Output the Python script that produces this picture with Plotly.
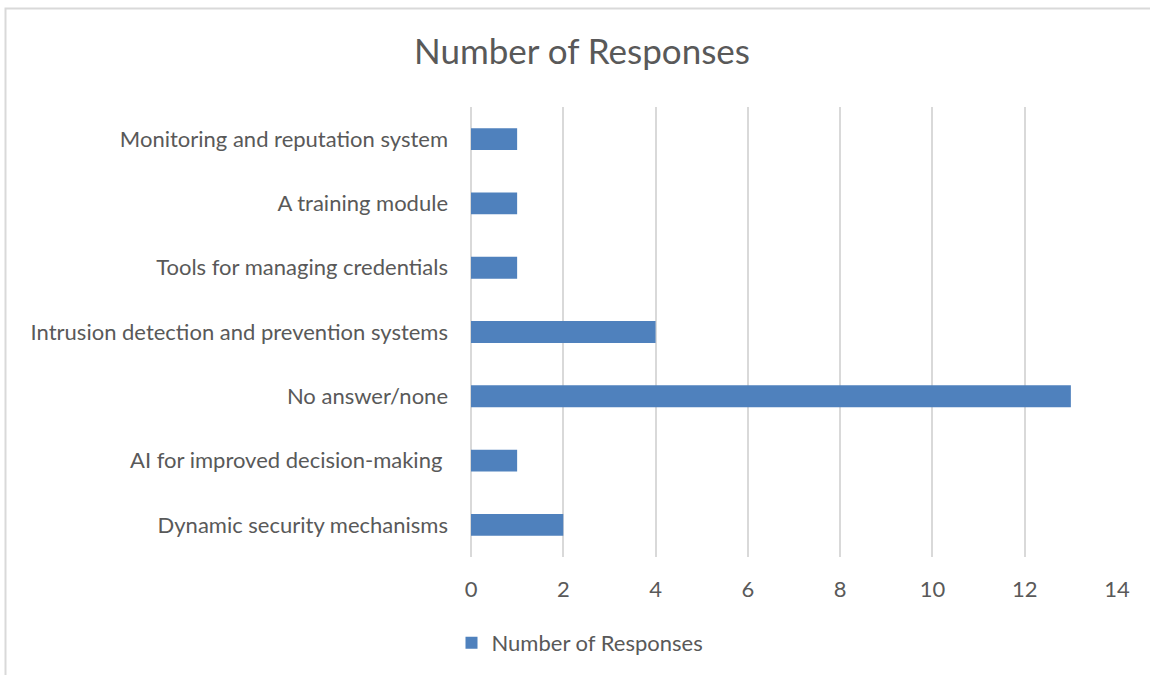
import plotly.graph_objects as go

# Survey results, listed bottom-to-top as they appear on the category axis
categories = [
    "Dynamic security mechanisms",
    "AI for improved decision-making\u00a0",
    "No answer/none",
    "Intrusion detection and prevention systems",
    "Tools for managing credentials",
    "A training module",
    "Monitoring and reputation system",
]
responses = [2, 1, 13, 4, 1, 1, 1]
x_ticks = [0, 2, 4, 6, 8, 10, 12, 14]

W, H = 1150, 675
L, R, T, B = 471, 1117, 107, 557

text_color = "#595959"
grid_color = "#D9D9D9"
bar_color = "#4F81BD"
font_family = "Lato, Open Sans, sans-serif"

fig = go.Figure(
    go.Bar(
        x=responses,
        y=categories,
        orientation="h",
        name="Number of Responses",
        marker=dict(color=bar_color, line=dict(width=0)),
        width=0.34,
    )
)

def px_to_paper_x(px):
    return (px - L) / (R - L)

def px_to_paper_y(py):
    return (B - py) / (B - T)

# Light frame around the chart area
fig.add_shape(
    type="rect",
    xref="paper", yref="paper",
    x0=px_to_paper_x(5.5), x1=px_to_paper_x(1170),
    y0=px_to_paper_y(700), y1=px_to_paper_y(8.5),
    line=dict(color=grid_color, width=2),
    fillcolor="rgba(0,0,0,0)",
    layer="below",
)

fig.update_layout(
    width=W, height=H,
    margin=dict(l=L, r=W - R, t=T, b=H - B, pad=0),
    paper_bgcolor="white",
    plot_bgcolor="white",
    font=dict(family=font_family, color=text_color, size=22),
    title=dict(
        text="Number of Responses",
        x=582 / W, xref="container", xanchor="center",
        y=1 - 52 / H, yref="container", yanchor="middle",
        font=dict(size=35, color=text_color, family=font_family),
    ),
    showlegend=True,
    legend=dict(
        orientation="h",
        xref="container", yref="container",
        x=580 / W, xanchor="center",
        y=1 - 643 / H, yanchor="middle",
        font=dict(size=22, color=text_color),
        itemwidth=30,
    ),
    bargap=0.66,
)

fig.update_xaxes(
    range=[0, 14],
    tickvals=x_ticks,
    ticktext=[str(v) for v in x_ticks],
    showgrid=True, gridcolor=grid_color, gridwidth=1.5,
    zeroline=True, zerolinecolor=grid_color, zerolinewidth=1.5,
    showline=False,
    ticks="",
    ticklabelstandoff=17,
    tickfont=dict(size=22, color=text_color),
    fixedrange=True,
)
fig.update_yaxes(
    categoryorder="array",
    categoryarray=categories,
    showgrid=False,
    showline=False,
    ticks="",
    ticklabelstandoff=22,
    tickfont=dict(size=22, color=text_color),
    fixedrange=True,
)

fig.write_html("out.html")
